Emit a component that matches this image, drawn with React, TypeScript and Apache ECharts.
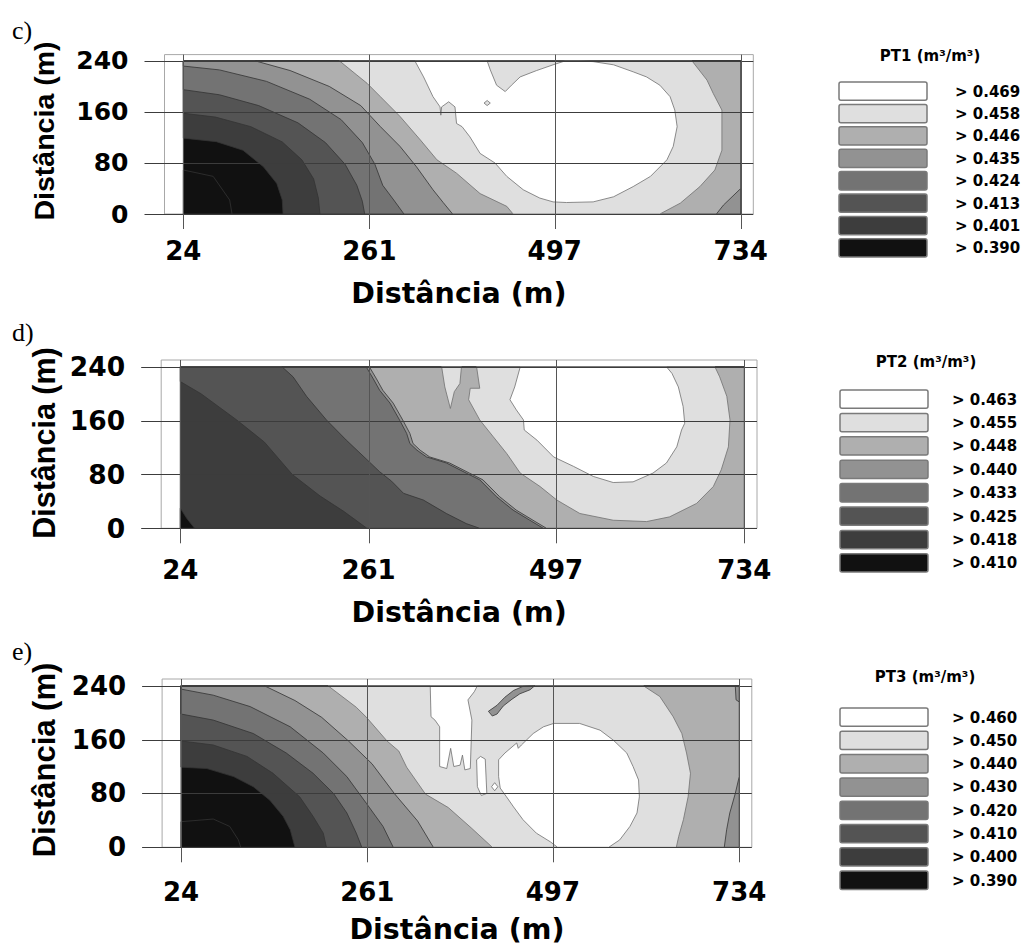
import React, { useEffect, useRef } from 'react';
import * as echarts from 'echarts';

// ---------- axes ----------
const X_MIN = 0;
const X_MAX = 750;
const Y_MIN = 0;
const Y_MAX = 250;
const xTicks = [24, 261, 497, 734];
const yTicks = [0, 80, 160, 240];

// ---------- legend ----------
const levelColors = ['#111111', '#3d3d3d', '#545454', '#737373', '#929292', '#afafaf', '#dfdfdf', '#ffffff'];
const legendPT1 = ['0.469', '0.458', '0.446', '0.435', '0.424', '0.413', '0.401', '0.390'];
const legendPT2 = ['0.463', '0.455', '0.448', '0.440', '0.433', '0.425', '0.418', '0.410'];
const legendPT3 = ['0.460', '0.450', '0.440', '0.430', '0.420', '0.410', '0.400', '0.390'];

// ---------- data area ----------
const dataRect = [[24, 0], [734, 0], [734, 240], [24, 240]];
const closeRight = [[734, 0], [734, 240], [24, 240]];
const closeRightTop = [[734, 0], [734, 240]];

// ---------- panel c (PT1) contour boundaries, data units ----------
const cInner = [[24, 69], [62, 59], [83, 22], [86, 0], [24, 0]];
const cA = [[24, 119], [66, 113.5], [100, 100], [126, 74], [143, 48], [150, 22], [151, 0]];
const cB = [[24, 158], [65, 152], [110, 137], [150, 113], [175, 85], [190, 55], [196, 25], [198, 0]];
const cC = [[24, 195], [70, 187], [120, 170], [170, 143], [205, 112], [230, 78], [245, 45], [252, 20], [255, 0]];
const cD = [[24, 232], [70, 226], [130, 208], [185, 180], [225, 148], [252, 112], [268, 78], [278, 45], [292, 22], [305, 0]];
const cE = [[116, 240], [160, 225], [210, 200], [250, 170], [275, 137], [300, 106], [321, 74], [342, 38], [355, 18], [367, 0]];
const cBR = [[703, 0], [712, 14], [734, 40], [734, 240]];
const cFL = [[223, 240], [245, 218], [258, 205], [275, 184], [300, 153], [326, 116], [347, 85], [372, 64], [402, 32], [436, 12], [444, 0]];
const cFR = [[631, 0], [657, 17], [682, 43], [701, 69], [710, 100], [710, 163], [699, 189], [691, 210], [672, 240]];
const cWhite = [
  [319, 240], [330, 215], [342, 184], [351, 168], [352, 155], [353, 168], [362, 176], [370, 168], [372, 142],
  [379, 137], [389, 121], [402, 95], [421, 80], [436, 59], [457, 38], [478, 25], [495, 19], [512, 18],
  [546, 19], [572, 27], [597, 43], [619, 59], [640, 85], [648, 106], [653, 137], [650, 163], [644, 184],
  [631, 202], [614, 215], [597, 223], [572, 234], [546, 239], [529, 240], [510, 240], [495, 234],
  [474, 225], [453, 215], [442, 202], [434, 192], [423, 202], [415, 226], [411, 240]
];
const cDiamond = [[407, 174], [411, 178], [415, 174], [411, 170]];

// ---------- panel d (PT2) ----------
const dBlack = [[24, 0], [24, 30], [32, 15], [42, 0]];
const dA = [[24, 218], [50, 200], [95, 161], [130, 128], [165, 80], [200, 48], [230, 25], [259, 0]];
const dB = [[152, 240], [166, 225], [183, 196], [208, 161], [233, 131], [259, 102], [275, 84], [290, 70], [305, 52], [330, 42], [359, 22], [384, 7], [401, 0]];
const dC = [[258, 240], [267, 222], [275, 205], [288, 186], [300, 161], [309, 141], [313, 126], [322, 116], [334, 106], [359, 97], [384, 82], [401, 72], [422, 47], [443, 27], [464, 12], [481, 0]];
const dD = [[262, 240], [271, 222], [279, 205], [292, 186], [304, 161], [313, 141], [317, 126], [326, 116], [338, 106], [363, 97], [388, 82], [405, 72], [426, 47], [447, 27], [468, 12], [485, 0]];
const dE = [
  [397, 240], [401, 208], [389, 208], [387, 191], [401, 161], [418, 136], [435, 111], [452, 82], [477, 62],
  [498, 42], [527, 22], [569, 12], [611, 10], [640, 17], [674, 37], [695, 62], [705, 87], [714, 121],
  [716, 161], [712, 196], [703, 225], [697, 240]
];
const dSpike = [[353, 240], [357, 210], [364, 178], [369, 203], [376, 215], [378, 240]];
const dWhite = [
  [452, 240], [445, 210], [439, 191], [447, 176], [456, 161], [457, 146], [473, 131], [494, 106], [519, 92],
  [544, 77], [569, 68], [594, 69], [619, 82], [636, 97], [649, 121], [655, 146], [659, 156], [657, 181],
  [651, 210], [643, 230], [636, 240]
];

// ---------- panel e (PT3) ----------
const eInner = [[24, 38], [65, 42], [86, 31], [97, 11], [100, 0], [24, 0]];
const eA = [[24, 119], [57, 117], [91, 105], [116, 90], [137, 70], [154, 46], [163, 26], [169, 0]];
const eB = [[24, 158], [65, 152], [108, 135], [141, 110], [175, 75], [192, 46], [205, 21], [209, 0]];
const eC = [[24, 198], [65, 189], [116, 169], [158, 140], [192, 110], [218, 80], [235, 51], [247, 21], [254, 0]];
const eD = [[24, 235], [65, 226], [112, 209], [163, 179], [205, 140], [235, 105], [260, 65], [281, 31], [294, 0]];
const eE = [[130, 240], [169, 218], [203, 193], [237, 158], [267, 124], [296, 79], [325, 39], [345, 0]];
const eBR = [[715, 0], [718, 26], [722, 51], [729, 80], [734, 105]];
const eTR = [[734, 216], [730, 219], [729, 240]];
const eFL = [[211, 240], [247, 208], [260, 193], [286, 158], [301, 143], [311, 119], [335, 79], [364, 59], [393, 29], [420, 0]];
const eFR = [[654, 0], [657, 16], [663, 41], [669, 75], [672, 110], [667, 140], [661, 169], [650, 194], [633, 224], [612, 240]];
const eSliver = [[415, 202], [426, 211], [436, 223], [447, 233], [459, 239], [474, 240], [468, 234], [455, 228], [445, 220], [434, 210], [426, 198], [420, 195]];
const eWhiteBlob = [[341, 240], [342, 194], [347, 189], [353, 179], [353, 120], [362, 117], [367, 147], [371, 120], [379, 122], [382, 137], [385, 115], [392, 117], [394, 189], [389, 219], [397, 231], [401, 240]];
const eWhiteNarrow = [[400, 130], [405, 135], [411, 131], [413, 80], [406, 77], [401, 90]];
const eWhiteBubble = [[419, 90], [423, 96], [427, 90], [423, 84]];
const eWhiteMain = [
  [498, 184], [531, 184], [557, 174], [574, 159], [591, 140], [599, 120], [606, 100], [607, 75], [604, 51],
  [595, 31], [582, 11], [568, 0], [503, 0], [494, 8], [476, 21], [459, 41], [447, 60], [438, 75], [430, 88],
  [428, 105], [428, 130], [436, 140], [451, 155], [453, 147], [457, 152], [472, 169], [485, 179]
];

type Region = { cls: number; pts: number[][] };

const regionsC: Region[] = [
  { cls: 0, pts: dataRect },
  { cls: 0, pts: cInner },
  { cls: 1, pts: [...cA, ...closeRight] },
  { cls: 2, pts: [...cB, ...closeRight] },
  { cls: 3, pts: [...cC, ...closeRight] },
  { cls: 4, pts: [...cD, ...closeRight] },
  { cls: 5, pts: [...cE, ...cBR] },
  { cls: 6, pts: [...cFL, ...cFR] },
  { cls: 7, pts: cWhite },
  { cls: 6, pts: cDiamond },
];
const regionsD: Region[] = [
  { cls: 1, pts: dataRect },
  { cls: 0, pts: dBlack },
  { cls: 2, pts: [...dA, ...closeRight] },
  { cls: 3, pts: [...dB, ...closeRightTop] },
  { cls: 4, pts: [...dC, ...closeRightTop] },
  { cls: 5, pts: [...dD, ...closeRightTop] },
  { cls: 6, pts: dE },
  { cls: 6, pts: dSpike },
  { cls: 7, pts: dWhite },
];
const regionsE: Region[] = [
  { cls: 0, pts: dataRect },
  { cls: 0, pts: eInner },
  { cls: 1, pts: [...eA, ...closeRight] },
  { cls: 2, pts: [...eB, ...closeRight] },
  { cls: 3, pts: [...eC, ...closeRight] },
  { cls: 4, pts: [...eD, ...closeRight] },
  { cls: 5, pts: [...eE, ...eBR, ...eTR] },
  { cls: 6, pts: [...eFL, ...eFR] },
  { cls: 4, pts: eSliver },
  { cls: 7, pts: eWhiteBlob },
  { cls: 7, pts: eWhiteNarrow },
  { cls: 7, pts: eWhiteBubble },
  { cls: 7, pts: eWhiteMain },
];

// ---------- layout ----------
const panels = [
  {
    letter: 'c)', letterY: 30, regions: regionsC,
    grid: { left: 164.5, top: 54.6, width: 588.8, height: 159.4 },
    xLabelMargin: 24, yLabelSize: 25, yTitleSize: 28.5, yTitleY: 131, xTitleY: 293,
    legendTitle: 'PT1 (m³/m³)', legendVals: legendPT1, legTitleX: 930, legTitleY: 56, legTop: 82, legStep: 22.4, legBoxX: 839, legLabelX: 955,
  },
  {
    letter: 'd)', letterY: 332, regions: regionsD,
    grid: { left: 161.2, top: 360, width: 595.8, height: 168.3 },
    xLabelMargin: 28.5, yLabelSize: 26.5, yTitleSize: 30.5, yTitleY: 443, xTitleY: 612,
    legendTitle: 'PT2 (m³/m³)', legendVals: legendPT2, legTitleX: 926, legTitleY: 362, legTop: 390, legStep: 23.4, legBoxX: 840, legLabelX: 952,
  },
  {
    letter: 'e)', letterY: 651, regions: regionsE,
    grid: { left: 162.1, top: 679, width: 589.7, height: 168.3 },
    xLabelMargin: 32, yLabelSize: 26, yTitleSize: 31, yTitleY: 760, xTitleY: 929,
    legendTitle: 'PT3 (m³/m³)', legendVals: legendPT3, legTitleX: 925, legTitleY: 677, legTop: 708, legStep: 23.3, legBoxX: 840, legLabelX: 952,
  },
];

const SANS = '"DejaVu Sans", sans-serif';

export default function App() {
  const ref = useRef<HTMLDivElement>(null);
  useEffect(() => {
    if (!ref.current) return;
    const chart = echarts.init(ref.current, null, { renderer: 'svg' });

    const grids: any[] = [];
    const xAxes: any[] = [];
    const yAxes: any[] = [];
    const series: any[] = [];
    const graphics: any[] = [];

    panels.forEach((p, i) => {
      grids.push({ ...p.grid, show: true, borderColor: '#a8a8a8', borderWidth: 1, backgroundColor: 'transparent', containLabel: false });
      xAxes.push({
        type: 'value', gridIndex: i, min: X_MIN, max: X_MAX,
        axisLine: { show: false }, axisTick: { show: false }, splitLine: { show: false },
        axisLabel: {
          customValues: xTicks, margin: p.xLabelMargin, color: '#000', fontSize: 26,
          fontWeight: 'bold', fontFamily: SANS, formatter: (v: number) => String(Math.round(v)),
        },
      });
      yAxes.push({
        type: 'value', gridIndex: i, min: Y_MIN, max: Y_MAX,
        axisLine: { show: false }, axisTick: { show: false }, splitLine: { show: false },
        axisLabel: {
          customValues: yTicks, margin: 36, color: '#000', fontSize: p.yLabelSize,
          fontWeight: 'bold', fontFamily: SANS, formatter: (v: number) => String(Math.round(v)),
        },
      });
      const regs = p.regions;
      series.push({
        type: 'custom', xAxisIndex: i, yAxisIndex: i, z: 2, clip: false,
        data: regs.map((_, k) => [k, 0]),
        renderItem: (params: any, api: any) => {
          const r = regs[params.dataIndex];
          return {
            type: 'polygon', z2: params.dataIndex,
            shape: { points: r.pts.map((pt) => api.coord(pt)) },
            style: { fill: levelColors[r.cls], stroke: r.cls >= 6 ? '#707070' : '#333333', lineWidth: 0.8 },
          };
        },
      });
      series.push({
        type: 'custom', xAxisIndex: i, yAxisIndex: i, z: 5, clip: false,
        data: [[0, 0]],
        renderItem: (params: any, api: any) => {
          const children: any[] = [];
          yTicks.forEach((v) => {
            const a = api.coord([X_MIN, v]);
            const b = api.coord([X_MAX, v]);
            const y = Math.round(a[1]) + 0.5;
            children.push({ type: 'line', shape: { x1: a[0] - 20, y1: y, x2: b[0], y2: y }, style: { stroke: '#3c3c3c', lineWidth: 1 } });
          });
          xTicks.forEach((v) => {
            const a = api.coord([v, Y_MAX]);
            const b = api.coord([v, Y_MIN]);
            const x = Math.round(a[0]) + 0.5;
            children.push({ type: 'line', shape: { x1: x, y1: a[1], x2: x, y2: b[1] + 15 }, style: { stroke: '#555', lineWidth: 1 } });
          });
          return { type: 'group', children };
        },
      });

      // panel letter
      graphics.push({
        type: 'text', x: 12, y: p.letterY,
        style: { text: p.letter, fontSize: 26, fontFamily: '"Liberation Serif", serif', fill: '#000', align: 'left', verticalAlign: 'middle' },
      });
      // y title
      graphics.push({
        type: 'text', x: 44, y: p.yTitleY, rotation: Math.PI / 2,
        style: { text: 'Distância (m)', fontSize: p.yTitleSize, fontWeight: 'bold', fontFamily: '"Liberation Sans", Arial, sans-serif', fill: '#000', align: 'center', verticalAlign: 'middle' },
      });
      // x title
      graphics.push({
        type: 'text', x: p.grid.left + p.grid.width / 2, y: p.xTitleY,
        style: { text: 'Distância (m)', fontSize: 28.5, fontWeight: 'bold', fontFamily: SANS, fill: '#000', align: 'center', verticalAlign: 'middle' },
      });
      // legend
      graphics.push({
        type: 'text', x: p.legTitleX, y: p.legTitleY,
        style: { text: p.legendTitle, fontSize: 15, fontWeight: 'bold', fontFamily: SANS, fill: '#000', align: 'center', verticalAlign: 'middle' },
      });
      p.legendVals.forEach((v, k) => {
        const y = p.legTop + k * p.legStep;
        graphics.push({
          type: 'rect', shape: { x: p.legBoxX, y, width: 88, height: 18.3, r: 2 },
          style: { fill: levelColors[7 - k], stroke: '#7a7a7a', lineWidth: 1.5 },
        });
        graphics.push({
          type: 'text', x: p.legLabelX, y: y + 9.5,
          style: { text: '> ' + v, fontSize: 15, fontWeight: 'bold', fontFamily: SANS, fill: '#000', align: 'left', verticalAlign: 'middle' },
        });
      });
    });

    chart.setOption({
      animation: false,
      backgroundColor: '#ffffff',
      grid: grids,
      xAxis: xAxes,
      yAxis: yAxes,
      series,
      graphic: { elements: graphics },
    });
    return () => chart.dispose();
  }, []);
  return <div ref={ref} style={{ position: 'absolute', left: 0, top: 0, width: 1022, height: 947 }} />;
}
